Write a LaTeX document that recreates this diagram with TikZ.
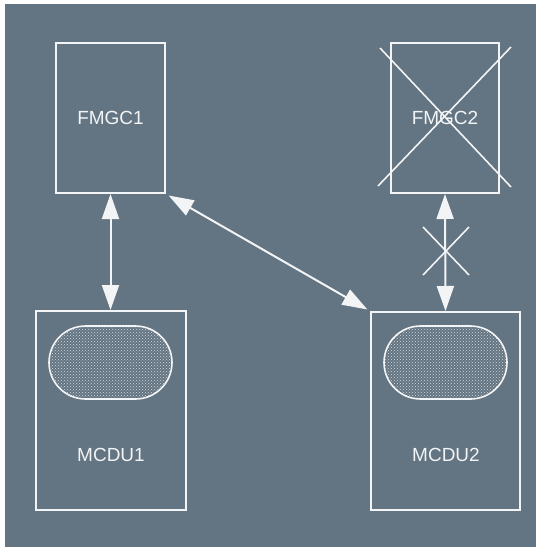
\documentclass[tikz,border=0pt]{standalone}
\usepackage{fontspec}
\setmainfont{Liberation Sans}
\usetikzlibrary{arrows.meta,shapes.misc,patterns}
\definecolor{bg}{RGB}{99,116,130}
\definecolor{ln}{RGB}{242,244,245}
\begin{document}
\begin{tikzpicture}[x=1pt,y=-1pt,
  box/.style={draw=ln,line width=2pt,rectangle,inner sep=0pt,text=ln,font=\fontsize{19}{21}\selectfont},
  screen/.style={draw=ln,line width=1.6pt,rounded rectangle,minimum width=123pt,minimum height=73pt,inner sep=0pt,pattern=crosshatch dots,pattern color=ln!80!bg},
  lbl/.style={text=ln,font=\fontsize{19}{21}\selectfont,inner sep=0pt},
  link/.style={draw=ln,line width=2pt,{Triangle[length=25pt,width=17pt]}-{Triangle[length=25pt,width=17pt]}},
  crossline/.style={draw=ln,line width=1.6pt}]
\useasboundingbox (0,0) rectangle (541,547);
\fill[white] (0,0) rectangle (541,547);
\fill[bg] (5,4) rectangle (535.5,547);
\node[box,minimum width=109pt,minimum height=150pt] (fmgc1) at (110.5,118) {FMGC1};
\node[box,minimum width=108pt,minimum height=150pt] (fmgc2) at (445,118) {FMGC2};
\node[box,minimum width=150pt,minimum height=199pt] (mcdu1) at (110.5,410.5) {};
\node[box,minimum width=149pt,minimum height=198pt] (mcdu2) at (445.5,411) {};
\node[screen] (scr1) at (110.5,362.5) {};
\node[screen] (scr2) at (445.5,362.5) {};
\node[lbl] (l1) at (111,455) {MCDU1};
\node[lbl] (l2) at (446,455) {MCDU2};
\draw[link] (fmgc1.south) -- (mcdu1.north);
\draw[link] (fmgc2.south) -- (mcdu2.north);
\draw[link,shorten <=3pt,shorten >=3pt] (fmgc1.south east) -- (mcdu2.north west);
% cross over FMGC2
\coordinate (c1a) at (380,48);
\coordinate (c1b) at (511,187);
\coordinate (c2a) at (378,186);
\coordinate (c2b) at (511,47);
\draw[crossline] (c1a) -- (c1b);
\draw[crossline] (c2a) -- (c2b);
% cross over the link
\coordinate (x1a) at (423,227);
\coordinate (x1b) at (469,275);
\coordinate (x2a) at (423,275);
\coordinate (x2b) at (469,227);
\draw[crossline] (x1a) -- (x1b);
\draw[crossline] (x2a) -- (x2b);
\end{tikzpicture}
\end{document}
